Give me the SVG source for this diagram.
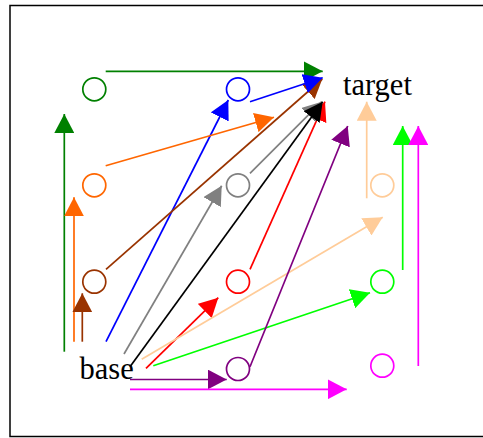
<svg xmlns="http://www.w3.org/2000/svg" width="483" height="438" viewBox="0 0 483 438">
<style>
.n{fill:none;stroke-width:1.7}
.e{fill:none;stroke-width:1.7}
.t{font-family:"Liberation Serif",serif;font-size:30.5px;fill:#000}
</style>
<defs>
<marker id="mGreen" viewBox="0 0 19 20" refX="19" refY="10" markerWidth="19" markerHeight="20" markerUnits="userSpaceOnUse" orient="auto"><path d="M0,0L19,10L0,20z" fill="#008000"/></marker>
<marker id="mBlue" viewBox="0 0 19 20" refX="19" refY="10" markerWidth="19" markerHeight="20" markerUnits="userSpaceOnUse" orient="auto"><path d="M0,0L19,10L0,20z" fill="#0000ff"/></marker>
<marker id="mOrange" viewBox="0 0 19 20" refX="19" refY="10" markerWidth="19" markerHeight="20" markerUnits="userSpaceOnUse" orient="auto"><path d="M0,0L19,10L0,20z" fill="#ff6600"/></marker>
<marker id="mBrown" viewBox="0 0 19 20" refX="19" refY="10" markerWidth="19" markerHeight="20" markerUnits="userSpaceOnUse" orient="auto"><path d="M0,0L19,10L0,20z" fill="#993300"/></marker>
<marker id="mGray" viewBox="0 0 19 20" refX="19" refY="10" markerWidth="19" markerHeight="20" markerUnits="userSpaceOnUse" orient="auto"><path d="M0,0L19,10L0,20z" fill="#808080"/></marker>
<marker id="mBlack" viewBox="0 0 19 20" refX="19" refY="10" markerWidth="19" markerHeight="20" markerUnits="userSpaceOnUse" orient="auto"><path d="M0,0L19,10L0,20z" fill="#000000"/></marker>
<marker id="mRed" viewBox="0 0 19 20" refX="19" refY="10" markerWidth="19" markerHeight="20" markerUnits="userSpaceOnUse" orient="auto"><path d="M0,0L19,10L0,20z" fill="#ff0000"/></marker>
<marker id="mPurple" viewBox="0 0 19 20" refX="19" refY="10" markerWidth="19" markerHeight="20" markerUnits="userSpaceOnUse" orient="auto"><path d="M0,0L19,10L0,20z" fill="#800080"/></marker>
<marker id="mPeach" viewBox="0 0 19 20" refX="19" refY="10" markerWidth="19" markerHeight="20" markerUnits="userSpaceOnUse" orient="auto"><path d="M0,0L19,10L0,20z" fill="#ffcc99"/></marker>
<marker id="mLime" viewBox="0 0 19 20" refX="19" refY="10" markerWidth="19" markerHeight="20" markerUnits="userSpaceOnUse" orient="auto"><path d="M0,0L19,10L0,20z" fill="#00ff00"/></marker>
<marker id="mMagenta" viewBox="0 0 19 20" refX="19" refY="10" markerWidth="19" markerHeight="20" markerUnits="userSpaceOnUse" orient="auto"><path d="M0,0L19,10L0,20z" fill="#ff00ff"/></marker>
</defs>
<rect x="10" y="5.5" width="480" height="431" fill="#fff" stroke="#000" stroke-width="1.5"/>
<g id="nodes">
<g id="n-green"><circle class="n" cx="94.3" cy="89.3" r="11.5" stroke="#008000"/></g>
<g id="n-blue"><circle class="n" cx="238" cy="89.3" r="11.5" stroke="#0000ff"/></g>
<g id="n-orange"><circle class="n" cx="94.3" cy="185.3" r="11.5" stroke="#ff6600"/></g>
<g id="n-gray"><circle class="n" cx="238" cy="185.3" r="11.5" stroke="#808080"/></g>
<g id="n-peach"><circle class="n" cx="382.3" cy="185.3" r="11.5" stroke="#ffcc99"/></g>
<g id="n-brown"><circle class="n" cx="94.3" cy="281.7" r="11.5" stroke="#993300"/></g>
<g id="n-red"><circle class="n" cx="238" cy="281.7" r="11.5" stroke="#ff0000"/></g>
<g id="n-lime"><circle class="n" cx="382.3" cy="281.7" r="11.5" stroke="#00ff00"/></g>
<g id="n-purple"><circle class="n" cx="238" cy="369" r="11.5" stroke="#800080"/></g>
<g id="n-magenta"><circle class="n" cx="382.3" cy="365.7" r="11.5" stroke="#ff00ff"/></g>
<g id="n-target"><text class="t" x="343" y="95">target</text></g>
<g id="n-base"><text class="t" x="79.5" y="378.5">base</text></g>
</g>
<g id="connectors">
<line class="e" x1="105.7" y1="71.3" x2="322.7" y2="71.3" stroke="#008000" marker-end="url(#mGreen)"/>
<line class="e" x1="64.3" y1="351.7" x2="64.3" y2="114" stroke="#008000" marker-end="url(#mGreen)"/>
<line class="e" x1="106" y1="341.7" x2="228.3" y2="100" stroke="#0000ff" marker-end="url(#mBlue)"/>
<line class="e" x1="105.7" y1="165.7" x2="274" y2="117.3" stroke="#ff6600" marker-end="url(#mOrange)"/>
<line class="e" x1="74" y1="341.7" x2="74" y2="197.3" stroke="#ff6600" marker-end="url(#mOrange)"/>
<line class="e" x1="82.3" y1="341.7" x2="82.3" y2="293.3" stroke="#993300" marker-end="url(#mBrown)"/>
<line class="e" x1="124" y1="354" x2="221.7" y2="185.7" stroke="#808080" marker-end="url(#mGray)"/>
<line class="e" x1="146" y1="368.3" x2="218.3" y2="297.7" stroke="#ff0000" marker-end="url(#mRed)"/>
<line class="e" x1="130" y1="379.5" x2="226.7" y2="379.5" stroke="#800080" marker-end="url(#mPurple)"/>
<line class="e" x1="141.7" y1="359.3" x2="382.7" y2="217.3" stroke="#ffcc99" marker-end="url(#mPeach)"/>
<line class="e" x1="153.3" y1="365.7" x2="370" y2="292.7" stroke="#00ff00" marker-end="url(#mLime)"/>
<line class="e" x1="130" y1="389.3" x2="346.7" y2="389.3" stroke="#ff00ff" marker-end="url(#mMagenta)"/>
<line class="e" x1="250" y1="366.7" x2="347.7" y2="126" stroke="#800080" marker-end="url(#mPurple)"/>
<line class="e" x1="366.7" y1="198.3" x2="366.7" y2="101.7" stroke="#ffcc99" marker-end="url(#mPeach)"/>
<line class="e" x1="402.7" y1="270" x2="402.7" y2="126" stroke="#00ff00" marker-end="url(#mLime)"/>
<line class="e" x1="418.3" y1="366" x2="418.3" y2="126" stroke="#ff00ff" marker-end="url(#mMagenta)"/>
<line class="e" x1="250" y1="269.3" x2="325" y2="101.7" stroke="#ff0000" marker-end="url(#mRed)"/>
<line class="e" x1="250" y1="173.3" x2="321.7" y2="101.7" stroke="#808080" marker-end="url(#mGray)"/>
<line class="e" x1="106" y1="269.3" x2="322.3" y2="79" stroke="#993300" marker-end="url(#mBrown)"/>
<line class="e" x1="250" y1="101.7" x2="322.7" y2="77.7" stroke="#0000ff" marker-end="url(#mBlue)"/>
<line class="e" x1="130" y1="366.7" x2="322.7" y2="101.7" stroke="#000000" marker-end="url(#mBlack)"/>
</g>
</svg>
